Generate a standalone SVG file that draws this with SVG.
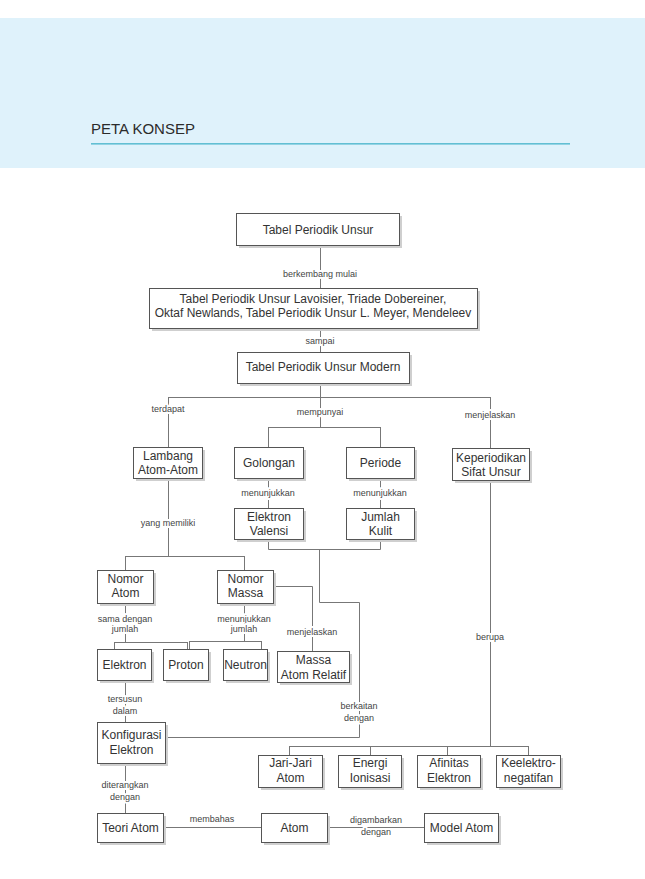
<svg xmlns="http://www.w3.org/2000/svg" width="645" height="879" viewBox="0 0 645 879">
<style>
.sh{fill:#cfcfcf}
.bx{fill:#fff;stroke:#555;stroke-width:1}
.t{font-family:"Liberation Sans",Arial,sans-serif;font-size:12px;fill:#333;text-anchor:middle}
.l{font-family:"Liberation Sans",Arial,sans-serif;font-size:9px;fill:#444;text-anchor:middle;stroke:#fff;stroke-width:4px;paint-order:stroke;stroke-linejoin:round}
.c{fill:none;stroke:#777;stroke-width:1}
</style>
<rect x="0" y="0" width="645" height="879" fill="#fff"/>
<rect x="0" y="18" width="645" height="150" fill="#dff2fb"/>
<text x="91" y="134" font-family="'Liberation Sans',Arial,sans-serif" font-size="15" fill="#2b2b2b">PETA KONSEP</text>
<rect x="91" y="143" width="479" height="1.6" fill="#62bfd3"/>

<g id="connectors">
<path class="c" d="M320.5 245V288M320.5 328V352M320.5 383V397.5M168.5 397.5H490.5M168.5 397V447M490.5 397V448M320.5 397V427.5M268.5 427.5H380.5M268.5 427V447M380.5 427V447"/>
<path class="c" d="M268.5 478V508M380.5 478V508M168.5 478V556.5M125.5 556.5H244.5M125.5 556V570M244.5 556V570"/>
<path class="c" d="M268.5 539V549.5H380.5V539M319.5 549V602.5H359.5V737.5H165"/>
<path class="c" d="M273 586.5H312.5V651"/>
<path class="c" d="M125.5 603V642.5M114.5 642.5H187.5M114.5 642V649M187.5 642V649"/>
<path class="c" d="M244.5 603V641.5M189.5 641.5H261.5M189.5 641V649M261.5 641V649"/>
<path class="c" d="M125.5 680V722M125.5 763V813M163 827.5H261M327 827.5H424"/>
<path class="c" d="M490.5 480V746.5M289.5 746.5H528.5M289.5 746V755M370.5 746V755M447.5 746V755M528.5 746V755"/>
<text class="l" x="320" y="277">berkembang mulai</text>
<text class="l" x="320" y="344">sampai</text>
<text class="l" x="168" y="412">terdapat</text>
<text class="l" x="320" y="415">mempunyai</text>
<text class="l" x="490" y="418">menjelaskan</text>
<text class="l" x="268" y="496">menunjukkan</text>
<text class="l" x="380" y="496">menunjukkan</text>
<text class="l" x="168" y="526">yang memiliki</text>
<text class="l" x="125" y="622">sama dengan</text>
<text class="l" x="125" y="632">jumlah</text>
<text class="l" x="244" y="622">menunjukkan</text>
<text class="l" x="244" y="632">jumlah</text>
<text class="l" x="312" y="635">menjelaskan</text>
<text class="l" x="125" y="702">tersusun</text>
<text class="l" x="125" y="714">dalam</text>
<text class="l" x="359" y="709">berkaitan</text>
<text class="l" x="359" y="721">dengan</text>
<text class="l" x="490" y="640">berupa</text>
<text class="l" x="125" y="788">diterangkan</text>
<text class="l" x="125" y="800">dengan</text>
<text class="l" x="212" y="822">membahas</text>
<text class="l" x="376" y="823">digambarkan</text>
<text class="l" x="376" y="835">dengan</text>
</g>

<g id="n-tabel"><rect class="sh" x="239" y="216" width="163" height="32"/><rect class="bx" x="236.5" y="213.5" width="163" height="32"/><text class="t" x="318" y="234">Tabel Periodik Unsur</text></g>
<g id="n-sejarah"><rect class="sh" x="152" y="291" width="328" height="40"/><rect class="bx" x="149.5" y="288.5" width="328" height="40"/><text class="t" x="313" y="303">Tabel Periodik Unsur Lavoisier, Triade Dobereiner,</text><text class="t" x="313" y="317">Oktaf Newlands, Tabel Periodik Unsur L. Meyer, Mendeleev</text></g>
<g id="n-modern"><rect class="sh" x="240" y="355" width="172" height="31"/><rect class="bx" x="237.5" y="352.5" width="172" height="31"/><text class="t" x="323" y="371">Tabel Periodik Unsur Modern</text></g>
<g id="n-lambang"><rect class="sh" x="136" y="450" width="69" height="31"/><rect class="bx" x="133.5" y="447.5" width="69" height="31"/><text class="t" x="168" y="460">Lambang</text><text class="t" x="168" y="474">Atom-Atom</text></g>
<g id="n-golongan"><rect class="sh" x="237" y="450" width="69" height="31"/><rect class="bx" x="234.5" y="447.5" width="69" height="31"/><text class="t" x="269" y="467">Golongan</text></g>
<g id="n-periode"><rect class="sh" x="349" y="450" width="68" height="31"/><rect class="bx" x="346.5" y="447.5" width="68" height="31"/><text class="t" x="380.5" y="467">Periode</text></g>
<g id="n-keperiodikan"><rect class="sh" x="455" y="451" width="77" height="32"/><rect class="bx" x="452.5" y="448.5" width="77" height="32"/><text class="t" x="491" y="462">Keperiodikan</text><text class="t" x="491" y="476">Sifat Unsur</text></g>
<g id="n-valensi"><rect class="sh" x="237" y="511" width="69" height="31"/><rect class="bx" x="234.5" y="508.5" width="69" height="31"/><text class="t" x="269" y="521">Elektron</text><text class="t" x="269" y="535">Valensi</text></g>
<g id="n-kulit"><rect class="sh" x="349" y="511" width="68" height="31"/><rect class="bx" x="346.5" y="508.5" width="68" height="31"/><text class="t" x="380.5" y="521">Jumlah</text><text class="t" x="380.5" y="535">Kulit</text></g>
<g id="n-nomoratom"><rect class="sh" x="100" y="573" width="56" height="33"/><rect class="bx" x="97.5" y="570.5" width="56" height="33"/><text class="t" x="125.5" y="583">Nomor</text><text class="t" x="125.5" y="597">Atom</text></g>
<g id="n-nomormassa"><rect class="sh" x="220" y="573" width="56" height="33"/><rect class="bx" x="217.5" y="570.5" width="56" height="33"/><text class="t" x="245.5" y="583">Nomor</text><text class="t" x="245.5" y="597">Massa</text></g>
<g id="n-massarelatif"><rect class="sh" x="280" y="654" width="72" height="31"/><rect class="bx" x="277.5" y="651.5" width="72" height="31"/><text class="t" x="313.5" y="664">Massa</text><text class="t" x="313.5" y="679">Atom Relatif</text></g>
<g id="n-elektron"><rect class="sh" x="100" y="652" width="54" height="31"/><rect class="bx" x="97.5" y="649.5" width="54" height="31"/><text class="t" x="124.5" y="669">Elektron</text></g>
<g id="n-proton"><rect class="sh" x="166" y="652" width="45" height="31"/><rect class="bx" x="163.5" y="649.5" width="45" height="31"/><text class="t" x="186" y="669">Proton</text></g>
<g id="n-neutron"><rect class="sh" x="226" y="652" width="44" height="31"/><rect class="bx" x="223.5" y="649.5" width="44" height="31"/><text class="t" x="245.5" y="669">Neutron</text></g>
<g id="n-konfigurasi"><rect class="sh" x="100" y="725" width="68" height="41"/><rect class="bx" x="97.5" y="722.5" width="68" height="41"/><text class="t" x="131.5" y="739">Konfigurasi</text><text class="t" x="131.5" y="754">Elektron</text></g>
<g id="n-jarijari"><rect class="sh" x="261" y="758" width="64" height="32"/><rect class="bx" x="258.5" y="755.5" width="64" height="32"/><text class="t" x="290.5" y="767">Jari-Jari</text><text class="t" x="290.5" y="782">Atom</text></g>
<g id="n-energi"><rect class="sh" x="341" y="758" width="63" height="32"/><rect class="bx" x="338.5" y="755.5" width="63" height="32"/><text class="t" x="370" y="767">Energi</text><text class="t" x="370" y="782">Ionisasi</text></g>
<g id="n-afinitas"><rect class="sh" x="420" y="758" width="63" height="32"/><rect class="bx" x="417.5" y="755.5" width="63" height="32"/><text class="t" x="449" y="767">Afinitas</text><text class="t" x="449" y="782">Elektron</text></g>
<g id="n-keelektro"><rect class="sh" x="499" y="758" width="64" height="32"/><rect class="bx" x="496.5" y="755.5" width="64" height="32"/><text class="t" x="528.5" y="767">Keelektro-</text><text class="t" x="528.5" y="782">negatifan</text></g>
<g id="n-teori"><rect class="sh" x="100" y="816" width="66" height="29"/><rect class="bx" x="97.5" y="813.5" width="66" height="29"/><text class="t" x="130.5" y="832">Teori Atom</text></g>
<g id="n-atom"><rect class="sh" x="264" y="816" width="66" height="29"/><rect class="bx" x="261.5" y="813.5" width="66" height="29"/><text class="t" x="294.5" y="832">Atom</text></g>
<g id="n-model"><rect class="sh" x="427" y="816" width="74" height="29"/><rect class="bx" x="424.5" y="813.5" width="74" height="29"/><text class="t" x="461.5" y="832">Model Atom</text></g>
</svg>
